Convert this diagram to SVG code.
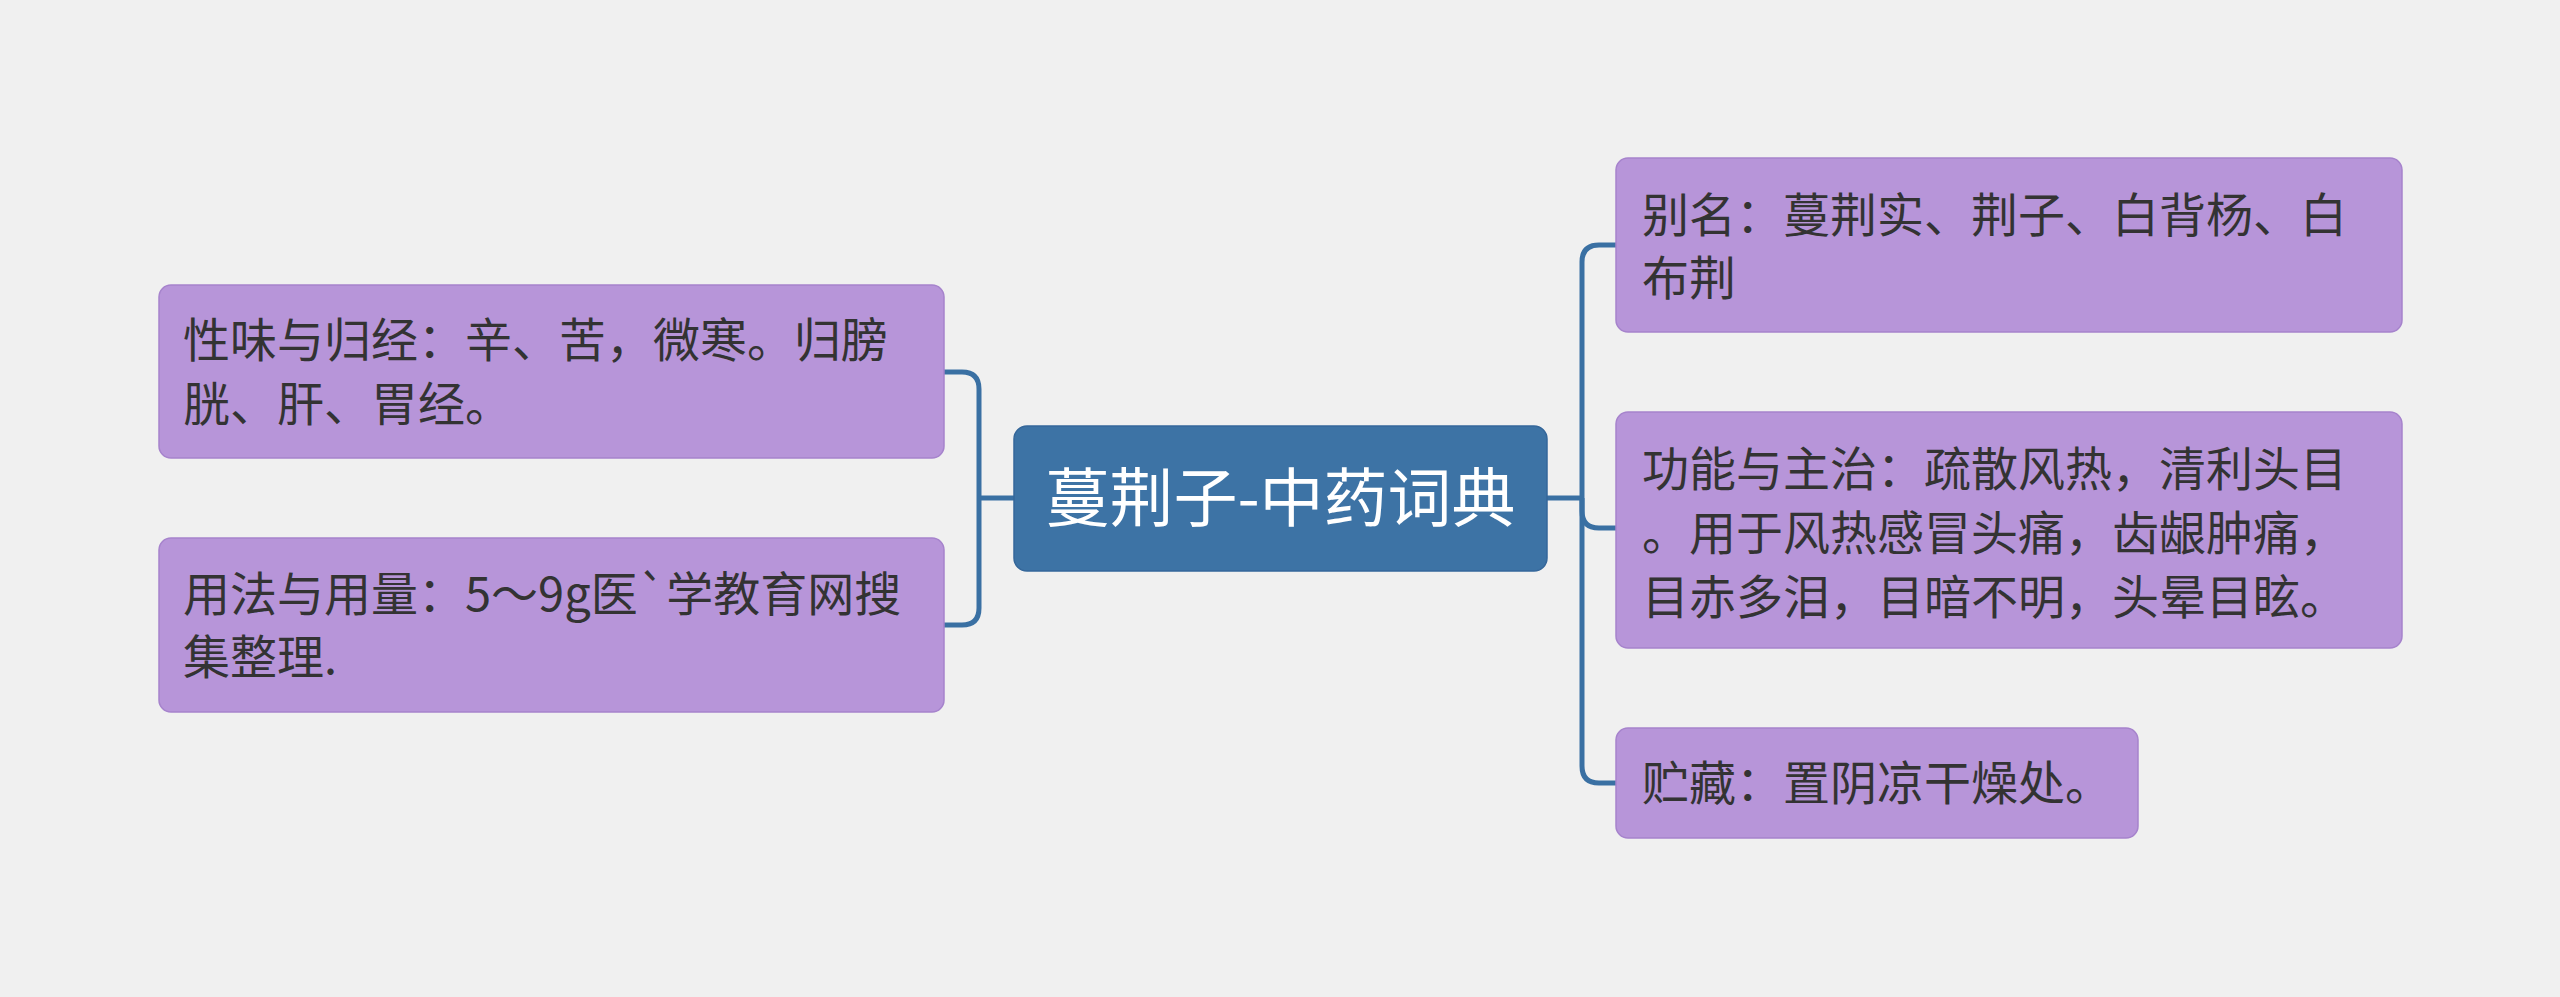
<svg xmlns="http://www.w3.org/2000/svg" width="2560" height="997" viewBox="0 0 2560 997">
<style>
.bg{fill:#f0f0f0}
.conn{fill:none;stroke:#3a70a3;stroke-width:5}
.leaf{fill:#b795d9;stroke:#a683cc;stroke-width:1.5}
.root{fill:#3d73a5;stroke:#35679a;stroke-width:1.5}
.lt{font-family:"Noto Sans CJK SC","Noto Sans",sans-serif;font-size:47px;fill:#333333}
.rt{font-family:"Noto Sans CJK SC","Noto Sans",sans-serif;font-size:64px;fill:#ffffff}
</style>
<rect class="bg" x="0" y="0" width="2560" height="997"/>
<g id="connectors">
<path class="conn" d="M1014,498 H979"/>
<path class="conn" d="M944,372 H962 Q979,372 979,389 V608 Q979,625 962,625 H944"/>
<path class="conn" d="M1547,498 H1582"/>
<path class="conn" d="M1616,245 H1599 Q1582,245 1582,262 V766 Q1582,783 1599,783 H1616"/>
<path class="conn" d="M1582,498 V511 Q1582,528 1599,528 H1616"/>
</g>
<g id="root">
<rect class="root" x="1014" y="426" width="533" height="145" rx="13"/>
<text class="rt" x="1280.5" y="521" text-anchor="middle">蔓荆子-中药词典</text>
</g>
<g id="node-xingwei">
<rect class="leaf" x="159" y="285" width="785" height="173" rx="12"/>
<text class="lt" x="183" y="357">性味与归经：辛、苦，微寒。归膀</text>
<text class="lt" x="183" y="421">胱、肝、胃经。</text>
</g>
<g id="node-yongfa">
<rect class="leaf" x="159" y="538" width="785" height="174" rx="12"/>
<text class="lt" x="183" y="611">用法与用量：5～9g医`学教育网搜</text>
<text class="lt" x="183" y="674">集整理.</text>
</g>
<g id="node-bieming">
<rect class="leaf" x="1616" y="158" width="786" height="174" rx="12"/>
<text class="lt" x="1642" y="232">别名：蔓荆实、荆子、白背杨、白</text>
<text class="lt" x="1642" y="295">布荆</text>
</g>
<g id="node-gongneng">
<rect class="leaf" x="1616" y="412" width="786" height="236" rx="12"/>
<text class="lt" x="1642" y="486">功能与主治：疏散风热，清利头目</text>
<text class="lt" x="1642" y="550">。用于风热感冒头痛，齿龈肿痛，</text>
<text class="lt" x="1642" y="614">目赤多泪，目暗不明，头晕目眩。</text>
</g>
<g id="node-zhucang">
<rect class="leaf" x="1616" y="728" width="522" height="110" rx="12"/>
<text class="lt" x="1642" y="800">贮藏：置阴凉干燥处。</text>
</g>
</svg>
